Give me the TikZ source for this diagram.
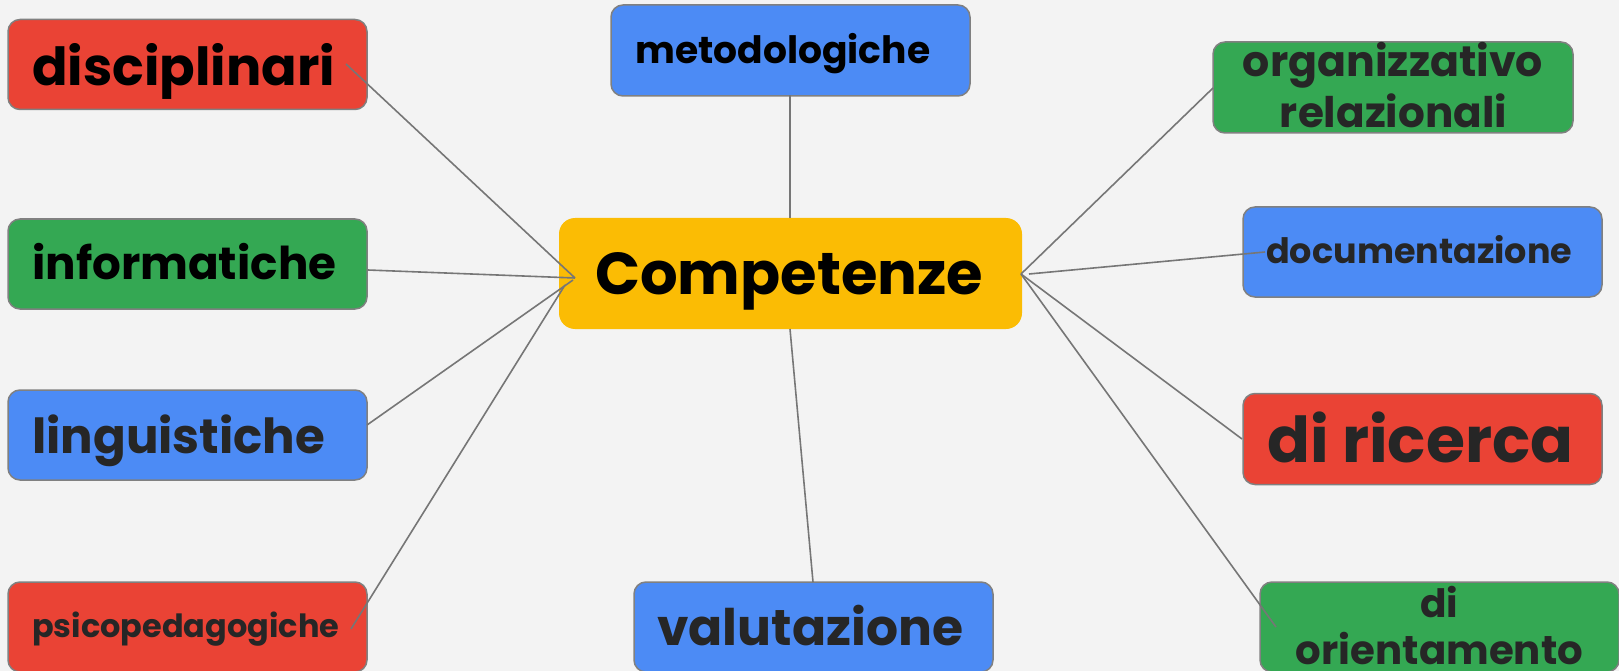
\documentclass[tikz,border=0pt]{standalone}
\usepackage{fontspec}
\setmainfont{Poppins}
\usepackage{graphicx}
\usetikzlibrary{calc}
\definecolor{bg}{HTML}{F3F3F3}
\definecolor{gred}{HTML}{EA4335}
\definecolor{ggreen}{HTML}{34A853}
\definecolor{gblue}{HTML}{4C8BF5}
\definecolor{gyellow}{HTML}{FBBC04}
\definecolor{edge}{HTML}{808080}
\definecolor{lne}{HTML}{767676}
\definecolor{dtxt}{HTML}{262626}
\newcommand{\fw}[2]{\resizebox{#1pt}{!}{#2}}
\tikzset{
  box/.style={draw=edge, line width=1.5pt, rounded corners=12pt, inner sep=0pt, minimum width=359pt, minimum height=90pt},
  hub/.style={fill=gyellow, rounded corners=16pt, inner sep=0pt, minimum width=463pt, minimum height=111pt},
  conn/.style={draw=lne, line width=1.6pt},
  lbl/.style={inner sep=0pt, font=\bfseries},
  lblL/.style={lbl, anchor=base west},
  lblC/.style={lbl, anchor=base},
}
\begin{document}
\begin{tikzpicture}[x=1pt, y=-1pt]
\useasboundingbox (0,0) rectangle (1619,671);
\fill[bg] (0,0) rectangle (1619,671);
% boxes
\node[box, fill=gred]   (bDisc) at (187.5,64.5) {};
\node[box, fill=ggreen] (bInfo) at (187.5,264) {};
\node[box, fill=gblue]  (bLing) at (187.5,435) {};
\node[box, fill=gred]   (bPsico) at (187.5,627) {};
\node[box, fill=gblue, minimum height=91pt]  (bMeto) at (790.5,50.5) {};
\node[hub] (bComp) at (790.5,273.5) {};
\node[box, fill=gblue]  (bVal) at (813.5,627) {};
\node[box, fill=ggreen, minimum width=360pt, minimum height=91pt] (bOrg) at (1393,87.5) {};
\node[box, fill=gblue]  (bDoc) at (1422.5,252) {};
\node[box, fill=gred, minimum height=91pt]   (bRic) at (1422.5,439) {};
\node[box, fill=ggreen] (bOri) at (1439.5,627) {};
% connector end points
\coordinate (hubL) at (575,278);
\coordinate (hubL1) at (573,280);
\coordinate (hubL2) at (565,285);
\coordinate (hubR) at (1021,274);
\coordinate (hubR2) at (1029,274);
\coordinate (eDisc) at (346,64);
\coordinate (eInfo) at ($(bInfo.east)+(0,6)$);
\coordinate (eLing) at (367,425);
\coordinate (ePsico) at (351,629);
\coordinate (eMetoB) at (790,95.5);
\coordinate (eCompT) at (790,218);
\coordinate (eCompB) at (790,329);
\coordinate (eValT) at (813,582);
\coordinate (eOrg) at (1213,88);
\coordinate (eDoc) at (1265,252);
\coordinate (eRic) at (1242,439);
\coordinate (eOri) at (1276,627);
% connectors
\draw[conn] (eDisc) -- (hubL);
\draw[conn] (eInfo) -- (hubL);
\draw[conn] (eLing) -- (hubL1);
\draw[conn] (ePsico) -- (hubL2);
\draw[conn] (eMetoB) -- (eCompT);
\draw[conn] (eCompB) -- (eValT);
\draw[conn] (eOrg) -- (hubR);
\draw[conn] (eDoc) -- (hubR2);
\draw[conn] (eRic) -- (hubR);
\draw[conn] (eOri) -- (hubR);
% labels
\node[lblL, text=black] (tDisc) at (32,86) {\fw{303}{disciplinari}};
\node[lblL, text=black] (tInfo) at (32,279) {\fw{304}{informatiche}};
\node[lblL, text=dtxt] (tLing) at (32,453) {\fw{293}{linguistiche}};
\node[lblL, text=dtxt] (tPsico) at (32,637) {\fw{307}{psicopedagogiche}};
\node[lblL, text=black] (tMeto) at (635,64) {\fw{295}{metodologiche}};
\node[lblL, text=black] (tComp) at (595,294) {\fw{388}{Competenze}};
\node[lblL, text=dtxt] (tVal) at (657,645) {\fw{306}{valutazione}};
\node[lblC, text=dtxt] (tOrg1) at (1393,77) {\fw{300}{organizzativo}};
\node[lblC, text=dtxt] (tOrg2) at (1393.5,128) {\fw{227}{relazionali}};
\node[lblL, text=dtxt] (tDoc) at (1266,263) {\fw{306}{documentazione}};
\node[lblL, text=dtxt] (tRic) at (1267,462) {\fw{306}{di ricerca}};
\node[lblC, text=dtxt] (tOri1) at (1439,617) {\fw{38}{di}};
\node[lblC, text=dtxt] (tOri2) at (1439.5,664) {\fw{287}{orientamento}};
\end{tikzpicture}
\end{document}
